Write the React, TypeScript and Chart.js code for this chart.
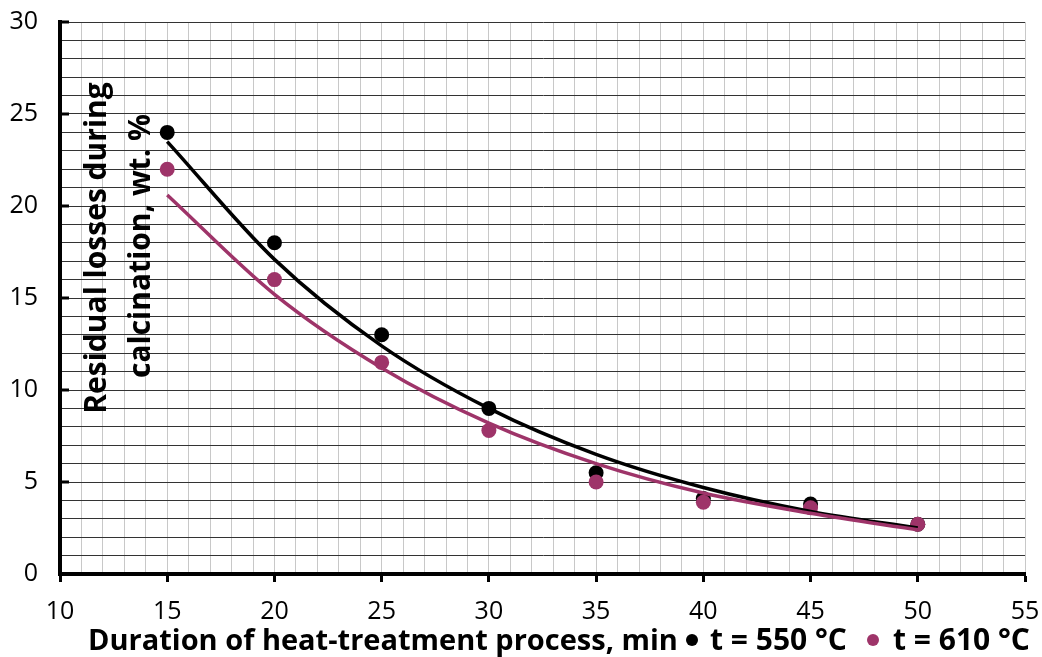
import React, { useEffect, useRef } from 'react';
import { Chart, registerables } from 'chart.js';

Chart.register(...registerables);

const durations = [15, 20, 25, 30, 35, 40, 45, 50];
const loss550 = [24.0, 18.0, 13.0, 9.0, 5.5, 4.1, 3.8, 2.7];
const loss610 = [22.0, 16.0, 11.5, 7.8, 5.0, 3.9, 3.6, 2.7];
const trend550 = [23.5, 17.1, 12.4, 9.0, 6.5, 4.7, 3.4, 2.5];
const trend610 = [20.6, 15.2, 11.2, 8.2, 6.0, 4.4, 3.3, 2.4];
const seriesLabels = ['t = 550 °C', 't = 610 °C'];
const seriesColors = ['#000000', '#9E3469'];
const xAxisTitle = 'Duration of heat-treatment process, min';
const yAxisTitle = ['Residual losses during', 'calcination, wt. %'];
const xRange = [10, 55];
const yRange = [0, 30];
const labelStep = 5;

const FONT = '"Open Sans", "DejaVu Sans", sans-serif';

const pts = (xs: number[], ys: number[]) => xs.map((x, i) => ({ x, y: ys[i] }));

const decorPlugin = {
  id: 'decor',
  afterDraw(chart: any) {
    const { ctx, chartArea, scales } = chart;
    const y = scales.y;
    ctx.save();
    // inner y major ticks
    ctx.fillStyle = '#000';
    for (let v = yRange[0]; v <= yRange[1]; v += labelStep) {
      const py = y.getPixelForValue(v);
      ctx.fillRect(chartArea.left, py - 1.5, 9, 3);
    }
    // y axis title (rotated, inside plot)
    ctx.fillStyle = '#000';
    ctx.font = `bold 30px ${FONT}`;
    ctx.textAlign = 'center';
    ctx.textBaseline = 'alphabetic';
    const yTitlePos = [
      [106, 248],
      [150, 246],
    ];
    yAxisTitle.forEach((line, i) => {
      ctx.save();
      ctx.translate(yTitlePos[i][0], yTitlePos[i][1]);
      ctx.rotate(-Math.PI / 2);
      ctx.fillText(line, 0, 0);
      ctx.restore();
    });
    // x axis title + legend on one line
    const baseY = 650;
    ctx.textAlign = 'left';
    ctx.textBaseline = 'alphabetic';
    ctx.font = `bold 29px ${FONT}`;
    ctx.fillText(xAxisTitle, 88, baseY);
    ctx.font = `bold 30px ${FONT}`;
    const legendX = [692, 873];
    const textX = [710, 893];
    seriesLabels.forEach((lab, i) => {
      ctx.fillStyle = seriesColors[i];
      ctx.beginPath();
      ctx.arc(legendX[i], 640, 6, 0, Math.PI * 2);
      ctx.fill();
      ctx.fillStyle = '#000';
      ctx.fillText(lab, textX[i], baseY);
    });
    ctx.restore();
  },
};

export default function App() {
  const ref = useRef<HTMLCanvasElement>(null);
  useEffect(() => {
    document.body.style.margin = '0';
    const chart = new Chart(ref.current as HTMLCanvasElement, {
      type: 'scatter',
      data: {
        datasets: [
          {
            label: seriesLabels[0],
            data: pts(durations, loss550),
            backgroundColor: seriesColors[0],
            borderColor: seriesColors[0],
            pointRadius: 7.5,
            pointHoverRadius: 7.5,
            borderWidth: 0,
            order: 4,
          },
          {
            label: seriesLabels[1],
            data: pts(durations, loss610),
            backgroundColor: seriesColors[1],
            borderColor: seriesColors[1],
            pointRadius: 7.5,
            pointHoverRadius: 7.5,
            borderWidth: 0,
            order: 3,
          },
          {
            label: 'trend 550',
            data: pts(durations, trend550),
            showLine: true,
            borderColor: seriesColors[0],
            borderWidth: 3.5,
            pointRadius: 0,
            cubicInterpolationMode: 'monotone',
            order: 2,
          },
          {
            label: 'trend 610',
            data: pts(durations, trend610),
            showLine: true,
            borderColor: seriesColors[1],
            borderWidth: 3.5,
            pointRadius: 0,
            cubicInterpolationMode: 'monotone',
            order: 1,
          },
        ],
      },
      options: {
        animation: false,
        responsive: true,
        maintainAspectRatio: false,
        layout: { padding: { top: 22, right: 17, left: 0, bottom: 0 } },
        plugins: { legend: { display: false }, tooltip: { enabled: false } },
        scales: {
          x: {
            type: 'linear',
            min: xRange[0],
            max: xRange[1],
            afterFit: (s: any) => {
              s.height = 83;
              s.paddingLeft = 0;
              s.paddingRight = 0;
            },
            ticks: {
              stepSize: 1,
              autoSkip: false,
              maxRotation: 0,
              padding: 15,
              color: '#000',
              font: { family: FONT, size: 25 },
              callback: (v: any) => (Number(v) % labelStep === 0 ? String(v) : ''),
            },
            grid: {
              color: '#c8c8c8',
              lineWidth: 1,
              tickLength: 8,
              tickWidth: 3,
              tickColor: (c: any) => (c.tick && c.tick.value % labelStep === 0 ? '#000' : 'rgba(0,0,0,0)'),
            },
            border: { color: '#000', width: 4 },
          },
          y: {
            type: 'linear',
            min: yRange[0],
            max: yRange[1],
            afterFit: (s: any) => {
              s.width = 60;
              s.paddingTop = 0;
              s.paddingBottom = 0;
            },
            ticks: {
              stepSize: 1,
              autoSkip: false,
              padding: 22,
              color: '#000',
              font: { family: FONT, size: 25 },
              callback: (v: any) => (Number(v) % labelStep === 0 ? String(v) : ''),
            },
            grid: {
              color: '#333333',
              lineWidth: 1,
              drawTicks: false,
            },
            border: { color: '#000', width: 4 },
          },
        },
      },
      plugins: [decorPlugin],
    } as any);
    return () => chart.destroy();
  }, []);
  return (
    <div style={{ width: 1042, height: 657, position: 'relative' }}>
      <canvas ref={ref} />
    </div>
  );
}
